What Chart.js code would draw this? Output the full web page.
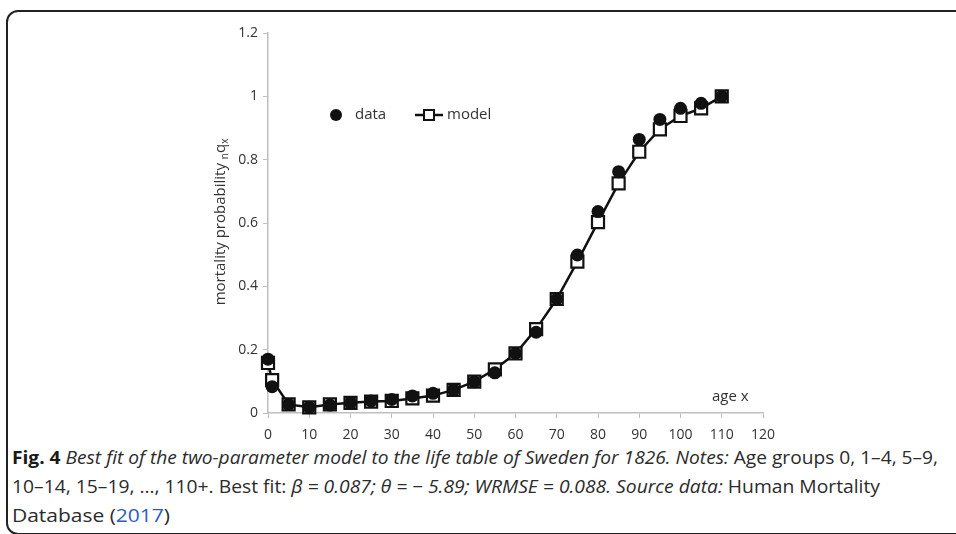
<!DOCTYPE html>
<html>
<head>
<meta charset="utf-8">
<script src="https://cdn.jsdelivr.net/npm/chart.js@4"></script>
<style>
  html, body { margin: 0; padding: 0; background: #fff; }
  body { width: 956px; height: 534px; position: relative; overflow: hidden; }
  #frame {
    position: absolute; left: 6px; top: 10px; width: 1000px; height: 525px;
    box-sizing: border-box; border: 2px solid #222; border-radius: 12px;
  }
  #chart { position: absolute; left: 0; top: 0; }
  .cap {
    position: absolute; left: 12px; white-space: nowrap; transform-origin: 0 50%;
    font-family: "Liberation Sans Narrow", "Open Sans", sans-serif; font-size: 18px; color: #2b2b2b;
  }
  .cap b { color: #1a1a1a; }
  .cap .ref { color: #2b5cc6; }
</style>
</head>
<body>
<div id="frame"></div>
<canvas id="chart" width="956" height="445"></canvas>
<div class="cap" id="cap1" style="top:445px"><b>Fig. 4</b> <i>Best fit of the two-parameter model to the life table of Sweden for 1826. Notes:</i> Age groups 0, 1–4, 5–9,</div>
<div class="cap" id="cap2" style="top:474px">10–14, 15–19, …, 110+. Best fit: <i>β = 0.087; θ = − 5.89; WRMSE = 0.088. Source data:</i> Human Mortality</div>
<div class="cap" id="cap3" style="top:503px">Database (<span class="ref">2017</span>)</div>
<script>
// ===== Data =====
const ages = [0, 1, 5, 10, 15, 20, 25, 30, 35, 40, 45, 50, 55, 60, 65, 70, 75, 80, 85, 90, 95, 100, 105, 110];
const dataQx = [0.17, 0.083, 0.027, 0.018, 0.025, 0.032, 0.038, 0.043, 0.054, 0.062, 0.073, 0.099, 0.127, 0.188, 0.255, 0.36, 0.499, 0.636, 0.762, 0.864, 0.927, 0.962, 0.978, 1.0];
const modelQx = [0.158, 0.104, 0.027, 0.018, 0.027, 0.032, 0.036, 0.038, 0.046, 0.055, 0.073, 0.099, 0.138, 0.188, 0.265, 0.36, 0.478, 0.603, 0.725, 0.825, 0.896, 0.938, 0.962, 1.0];
const xTicks = { min: 0, max: 120, step: 10 };
const yTicks = { min: 0, max: 1.2, step: 0.2 };

// ===== Caption width fitting =====
const capRight = { cap1: 938, cap2: 880, cap3: 170 };
Object.keys(capRight).forEach((id) => {
  const el = document.getElementById(id);
  const w = el.getBoundingClientRect().width;
  el.style.transform = `scaleX(${(capRight[id] - 12) / w})`;
});

// ===== Extra drawing: axis title, legend, x label =====
const TEXT = "#333";
const FONT = '"Open Sans", "DejaVu Sans", sans-serif';
const decorations = {
  id: "decorations",
  afterDraw(chart) {
    const ctx = chart.ctx;
    ctx.save();
    ctx.fillStyle = TEXT;
    ctx.textBaseline = "middle";

    // y axis title with subscripts
    ctx.save();
    ctx.translate(221, 222);
    ctx.rotate(-Math.PI / 2);
    const parts = [
      ["mortality probability ", 15, 0],
      ["n", 10, 4],
      ["q", 15, 0],
      ["x", 10, 4],
    ];
    let total = 0;
    parts.forEach(([t, s]) => { ctx.font = `${s}px ${FONT}`; total += ctx.measureText(t).width; });
    let x = -total / 2;
    ctx.textAlign = "left";
    parts.forEach(([t, s, dy]) => {
      ctx.font = `${s}px ${FONT}`;
      ctx.fillText(t, x, dy);
      x += ctx.measureText(t).width;
    });
    ctx.restore();

    // legend
    ctx.font = `15px ${FONT}`;
    ctx.textAlign = "left";
    ctx.fillStyle = "#111";
    ctx.beginPath();
    ctx.arc(336, 115, 6, 0, Math.PI * 2);
    ctx.fill();
    ctx.fillStyle = TEXT;
    ctx.fillText("data", 355, 115);
    ctx.strokeStyle = "#111";
    ctx.lineWidth = 2.5;
    ctx.beginPath();
    ctx.moveTo(415, 115);
    ctx.lineTo(443, 115);
    ctx.stroke();
    ctx.fillStyle = "#fff";
    ctx.fillRect(424, 110, 10, 10);
    ctx.lineWidth = 2;
    ctx.strokeRect(424, 110, 10, 10);
    ctx.fillStyle = TEXT;
    ctx.fillText("model", 447, 115);

    // x axis label
    ctx.fillText("age x", 712, 397);
    ctx.restore();
  },
};

new Chart(document.getElementById("chart"), {
  type: "scatter",
  data: {
    datasets: [
      {
        label: "data",
        data: ages.map((a, i) => ({ x: a, y: dataQx[i] })),
        showLine: false,
        clip: false,
        pointStyle: "circle",
        pointRadius: 6.5,
        backgroundColor: "#111",
        borderColor: "#111",
        borderWidth: 0,
      },
      {
        label: "model",
        data: ages.map((a, i) => ({ x: a, y: modelQx[i] })),
        showLine: true,
        clip: false,
        borderColor: "#111",
        borderWidth: 2.5,
        pointStyle: "rect",
        pointRadius: 8.5,
        pointBorderWidth: 2.2,
        pointBackgroundColor: "#fff",
        pointBorderColor: "#111",
        tension: 0,
      },
    ],
  },
  options: {
    responsive: false,
    animation: false,
    devicePixelRatio: 1,
    layout: { padding: { left: 228, top: 33, right: 193, bottom: 0 } },
    plugins: { legend: { display: false }, tooltip: { enabled: false } },
    scales: {
      x: {
        type: "linear",
        min: xTicks.min,
        max: xTicks.max,
        afterFit: (s) => { s.height = 32; },
        border: { color: "#bfbfbf", width: 1.5 },
        grid: { drawOnChartArea: false, drawTicks: true, tickLength: 5, color: "#bfbfbf" },
        ticks: { stepSize: xTicks.step, padding: 9, color: TEXT, font: { family: FONT, size: 14 } },
      },
      y: {
        min: yTicks.min,
        max: yTicks.max,
        afterFit: (s) => { s.width = 40; },
        border: { color: "#bfbfbf", width: 1.5 },
        grid: { drawOnChartArea: false, drawTicks: true, tickLength: 5, color: "#bfbfbf" },
        ticks: {
          stepSize: yTicks.step,
          padding: 5,
          color: TEXT,
          font: { family: FONT, size: 14 },
          callback: (v) => String(+v.toFixed(1)),
        },
      },
    },
  },
  plugins: [decorations],
});
</script>
</body>
</html>
